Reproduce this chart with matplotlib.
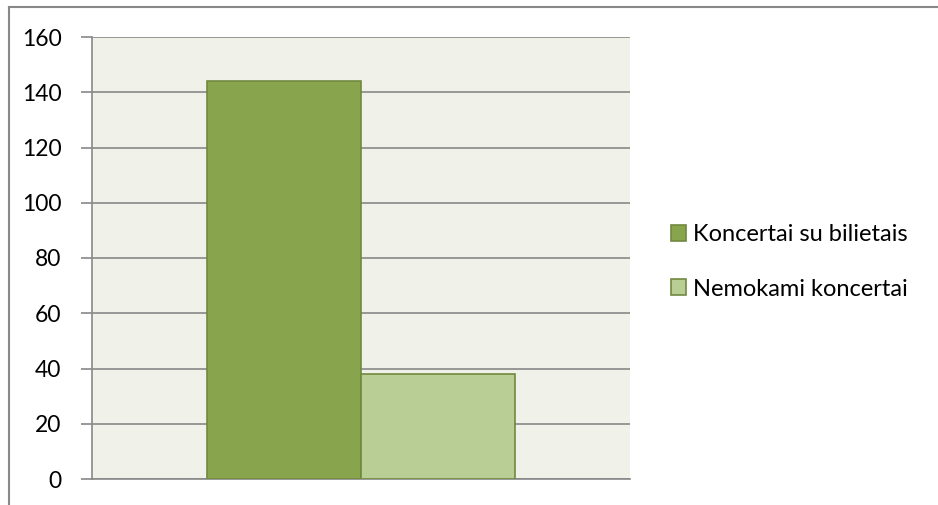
import matplotlib
matplotlib.use("Agg")
import matplotlib.pyplot as plt
from matplotlib.lines import Line2D
from matplotlib.patches import Patch

series_names = ["Koncertai su bilietais", "Nemokami koncertai"]
values = [144, 38]
yticks = [0, 20, 40, 60, 80, 100, 120, 140, 160]

W, H = 938, 505
fig = plt.figure(figsize=(W / 100, H / 100), dpi=100)
plt.rcParams['font.family'] = ['Lato', 'DejaVu Sans']

L, R, T, B = 92, 630, 37, 479
ax = fig.add_axes([L / W, 1 - B / H, (R - L) / W, (B - T) / H])
ax.set_facecolor("#F0F2EA")

face = ["#88A54E", "#B9CE95"]
edge = ["#71893F", "#71893F"]
bw = 154 / (R - L)
xs = [-bw / 2, bw / 2]
for x, v, fc, ec, n in zip(xs, values, face, edge, series_names):
    ax.bar(x, v, width=bw, color=fc, edgecolor=ec, linewidth=1.2, zorder=3, label=n)

ax.set_xlim(-0.5, 0.5)
ax.set_ylim(0, 160)
ax.set_yticks(yticks)
ax.set_yticklabels([str(t) for t in yticks], fontsize=16.5)
ax.set_xticks([])
ax.grid(axis='y', color="#888888", linewidth=1.2, zorder=1)
for s in ['top', 'right']:
    ax.spines[s].set_visible(False)
for s in ['left', 'bottom']:
    ax.spines[s].set_color("#888888")
    ax.spines[s].set_linewidth(1.2)
ax.tick_params(axis='y', length=8, width=1.2, color="#888888", pad=14, labelcolor="black")

handles = [Patch(facecolor=face[i], edgecolor=edge[i], linewidth=1.2) for i in range(2)]
fig.legend(handles, series_names, loc='center left', bbox_to_anchor=(664 / W, 1 - 262 / H),
           frameon=False, fontsize=17, handlelength=0.63, handleheight=0.63,
           handletextpad=0.28, labelspacing=1.4, borderaxespad=0, borderpad=0.3)

# figure border (top and left)
fig.add_artist(Line2D([9 / W, 1], [1 - 7 / H, 1 - 7 / H], color="#888888", linewidth=1.5, transform=fig.transFigure))
fig.add_artist(Line2D([9 / W, 9 / W], [0, 1 - 7 / H], color="#888888", linewidth=1.5, transform=fig.transFigure))

fig.savefig("out.png", dpi=100)
